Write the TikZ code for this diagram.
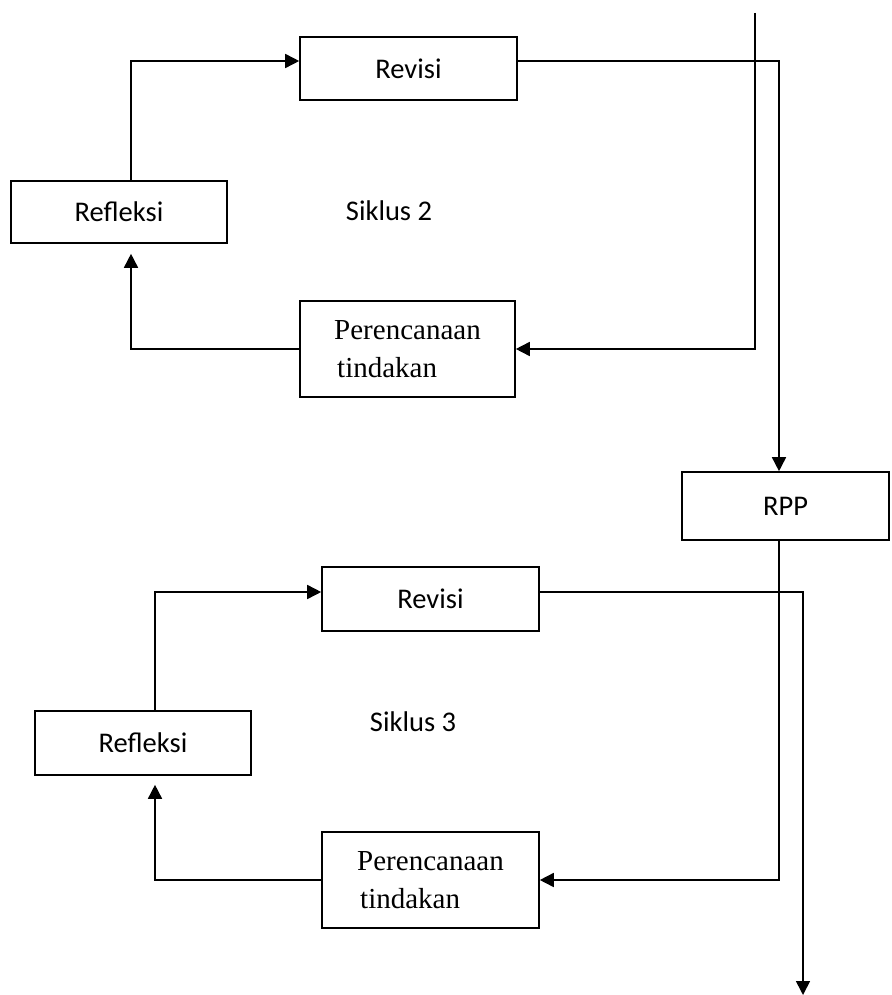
\documentclass[tikz,border=0pt]{standalone}
\usepackage{fontspec}
\setmainfont{Liberation Serif}
\newfontfamily\carlito{Carlito}
\usetikzlibrary{arrows.meta,calc}
\begin{document}
\begin{tikzpicture}[x=1pt,y=-1pt,
  box/.style={draw,line width=1.6pt,inner sep=0pt,minimum width=#1},
  sansbox/.style={box=#1,font=\carlito\fontsize{28.5}{34}\selectfont},
  planbox/.style={box=#1,font=\fontsize{29}{38}\selectfont,align=left},
  lbl/.style={font=\carlito\fontsize{28.5}{34}\selectfont,inner sep=0pt},
  conn/.style={line width=1.6pt},
  arr/.style={conn,-{Triangle[length=14pt,width=14pt]}}]
\useasboundingbox (0,0) rectangle (891,995);
% top cycle
\node[sansbox=217pt,minimum height=63pt] (rev1) at (408.5,68.5) {Revisi};
\node[sansbox=216pt,minimum height=62pt] (ref1) at (119,212) {Refleksi};
\node[planbox=215pt,minimum height=96pt] (per1) at (407.5,349) {Perencanaan\\\hspace*{3pt}tindakan};
\node[lbl] (sik2) at (389,211) {Siklus 2};
\node[sansbox=207pt,minimum height=68pt] (rpp) at (785.5,506) {RPP};
% bottom cycle
\node[sansbox=217pt,minimum height=64pt] (rev2) at (430.5,599) {Revisi};
\node[sansbox=216pt,minimum height=64pt] (ref2) at (143,743) {Refleksi};
\node[planbox=217pt,minimum height=96pt] (per2) at (430.5,880) {Perencanaan\\\hspace*{3pt}tindakan};
\node[lbl] (sik3) at (413,722) {Siklus 3};
% connector corners
\coordinate (top) at (755,13);
\coordinate (c1) at (131,61);
\coordinate (c2) at (779,61);
\coordinate (c3) at (131,349);
\coordinate (c4) at (779,880);
\coordinate (c5) at (155,592);
\coordinate (c6) at (803,592);
\coordinate (c7) at (155,880);
\coordinate (bot) at (803,995);
% connectors
\draw[arr] (ref1.north -| c1) -- (c1) -- (c1 -| rev1.west);
\draw[arr] (c2 -| rev1.east) -- (c2) -- (c2 |- rpp.north);
\draw[arr] (top) -- (top |- per1.east) -- (per1.east);
\draw[arr,shorten >=10pt] (per1.west) -- (c3) -- (c3 |- ref1.south);
\draw[arr] (c4 |- rpp.south) -- (c4) -- (per2.east);
\draw[arr] (ref2.north -| c5) -- (c5) -- (c5 -| rev2.west);
\draw[arr] (c6 -| rev2.east) -- (c6) -- (bot);
\draw[arr,shorten >=9pt] (per2.west) -- (c7) -- (c7 |- ref2.south);
\end{tikzpicture}
\end{document}
